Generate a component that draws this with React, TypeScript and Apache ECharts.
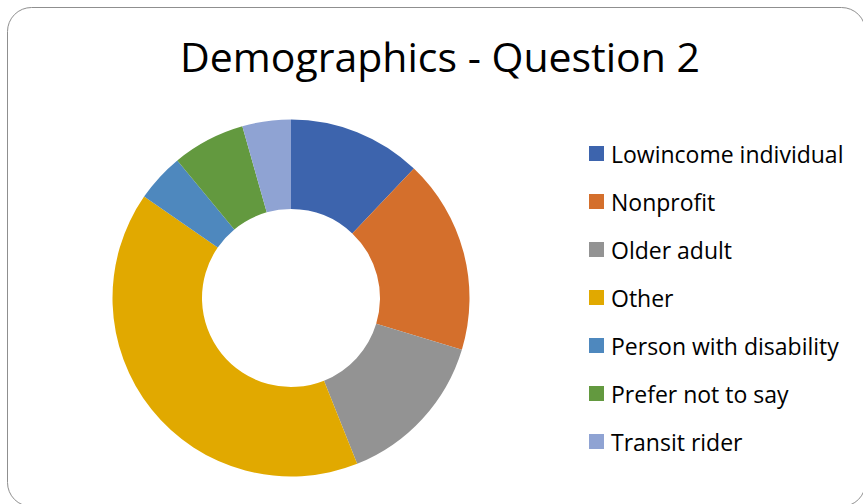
import React, { useEffect, useRef } from "react";
import * as echarts from "echarts";

const categories = [
  "Lowincome individual",
  "Nonprofit",
  "Older adult",
  "Other",
  "Person with disability",
  "Prefer not to say",
  "Transit rider",
];
const counts = [11, 16, 13, 37, 4, 6, 4];
const colors = ["#3D64AD", "#D46F2C", "#939393", "#E1A900", "#4E88BE", "#63993F", "#8FA3D3"];
const titleText = "Demographics - Question 2";

export default function App() {
  const ref = useRef<HTMLDivElement>(null);
  useEffect(() => {
    if (!ref.current) return;
    const chart = echarts.init(ref.current, null, { renderer: "svg" });
    chart.setOption({
      animation: false,
      backgroundColor: "#ffffff",
      title: {
        text: titleText,
        left: 440,
        top: 35,
        padding: 0,
        textAlign: "center",
        textStyle: {
          fontFamily: "Open Sans",
          fontSize: 41,
          fontWeight: "normal",
          color: "#000000",
        },
      },
      legend: {
        orient: "vertical",
        left: 589,
        top: 141.5,
        padding: 0,
        icon: "rect",
        itemWidth: 15,
        itemHeight: 15,
        itemGap: 24,
        data: categories,
        textStyle: {
          fontFamily: "Open Sans",
          fontSize: 23,
          lineHeight: 24,
          padding: [0, 0, 0, 2],
          color: "#000000",
        },
      },
      graphic: [
        {
          type: "rect",
          shape: { x: 7.5, y: 7.5, width: 858, height: 499, r: 24 },
          style: { fill: "none", stroke: "#8f8f8f", lineWidth: 1 },
          silent: true,
        },
      ],
      series: [
        {
          type: "pie",
          center: [291, 298],
          radius: [89, 178.5],
          startAngle: 90,
          clockwise: true,
          label: { show: false },
          labelLine: { show: false },
          emphasis: { disabled: true },
          data: categories.map((name, i) => ({
            name,
            value: counts[i],
            itemStyle: { color: colors[i] },
          })),
        },
      ],
    });
    return () => chart.dispose();
  }, []);
  return (
    <div
      ref={ref}
      style={{ position: "fixed", left: 0, top: 0, width: 863, height: 504 }}
    />
  );
}
